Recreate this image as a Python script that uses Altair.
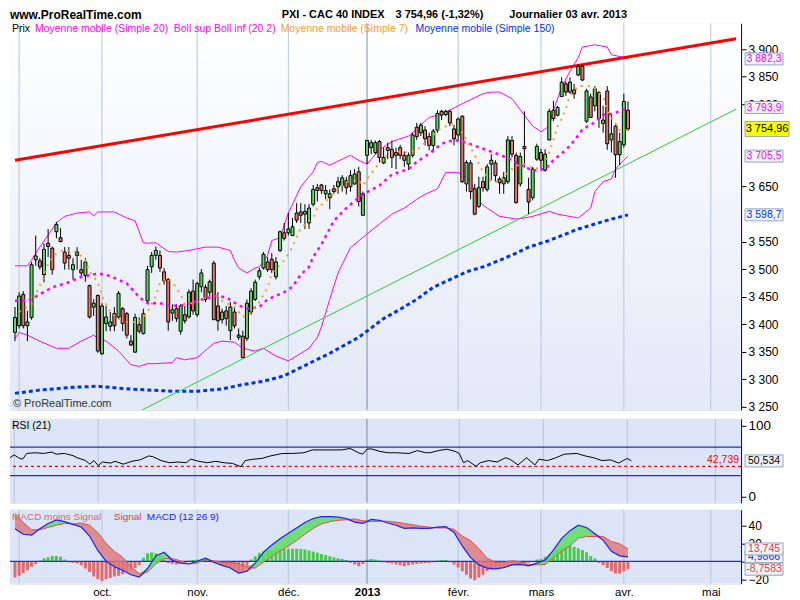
import altair as alt
import pandas as pd

FONT = "Liberation Sans, Arial, sans-serif"

# ---------------- data (trading-day index; 0 = 3 sept. 2012) ----------------
first_index = -1
opens = [3385, 3397, 3454, 3397, 3412, 3517, 3515, 3490, 3547, 3538, 3568, 3557, 3531, 3525, 3499, 3525, 3499, 3488, 3470, 3431,
         3452, 3346, 3401, 3396, 3419, 3413, 3428, 3419, 3369, 3349, 3399, 3383, 3442, 3504, 3525, 3525, 3495, 3481, 3420, 3428,
         3387, 3417, 3413, 3460, 3417, 3468, 3467, 3458, 3511, 3433, 3408, 3424, 3388, 3422, 3376, 3378, 3374, 3422, 3445, 3486,
         3502, 3513, 3518, 3486, 3534, 3566, 3566, 3561, 3602, 3604, 3600, 3584, 3618, 3648, 3653, 3637, 3630, 3646, 3650, 3652,
         3661, 3650, 3655, 3677, 3598, 3707, 3721, 3712, 3732, 3693, 3721, 3718, 3707, 3721, 3707, 3691, 3707, 3758, 3748, 3753,
         3741, 3725, 3753, 3787, 3781, 3787, 3755, 3744, 3778, 3655, 3693, 3646, 3614, 3659, 3645, 3691, 3693, 3664, 3655, 3659,
         3734, 3707, 3655, 3723, 3645, 3630, 3700, 3712, 3680, 3735, 3789, 3780, 3814, 3837, 3822, 3826, 3853, 3869, 3769, 3813,
         3797, 3821, 3765, 3824, 3735, 3760, 3708, 3726, 3789]
highs = [3431, 3458, 3460, 3424, 3513, 3561, 3520, 3547, 3573, 3541, 3586, 3575, 3540, 3540, 3520, 3540, 3517, 3520, 3472, 3445,
         3454, 3438, 3433, 3422, 3431, 3460, 3431, 3422, 3380, 3419, 3412, 3428, 3506, 3531, 3541, 3534, 3502, 3484, 3436, 3436,
         3436, 3433, 3463, 3481, 3477, 3500, 3472, 3481, 3515, 3458, 3428, 3433, 3440, 3433, 3392, 3388, 3445, 3465, 3481, 3502,
         3531, 3522, 3529, 3522, 3570, 3584, 3602, 3593, 3620, 3620, 3618, 3618, 3653, 3655, 3655, 3653, 3645, 3653, 3668, 3671,
         3668, 3680, 3682, 3686, 3641, 3735, 3735, 3734, 3735, 3721, 3730, 3734, 3721, 3726, 3714, 3712, 3748, 3766, 3766, 3760,
         3748, 3755, 3789, 3790, 3790, 3790, 3762, 3776, 3780, 3698, 3698, 3655, 3668, 3668, 3691, 3709, 3698, 3668, 3677, 3742,
         3742, 3712, 3712, 3787, 3666, 3686, 3728, 3719, 3718, 3792, 3806, 3797, 3849, 3842, 3849, 3837, 3872, 3872, 3828, 3819,
         3833, 3824, 3797, 3833, 3783, 3766, 3748, 3819, 3805]
lows = [3369, 3392, 3392, 3369, 3408, 3506, 3499, 3476, 3522, 3490, 3556, 3549, 3499, 3499, 3481, 3499, 3486, 3477, 3410, 3415,
        3348, 3344, 3387, 3387, 3387, 3410, 3387, 3374, 3360, 3348, 3383, 3381, 3438, 3493, 3517, 3495, 3472, 3388, 3406, 3404,
        3381, 3401, 3410, 3417, 3413, 3458, 3440, 3445, 3408, 3388, 3401, 3397, 3371, 3392, 3371, 3339, 3369, 3417, 3442, 3481,
        3499, 3495, 3493, 3481, 3531, 3552, 3561, 3561, 3584, 3584, 3573, 3573, 3614, 3623, 3637, 3627, 3609, 3637, 3637, 3641,
        3636, 3641, 3653, 3614, 3597, 3691, 3709, 3709, 3694, 3691, 3700, 3684, 3682, 3700, 3686, 3680, 3703, 3735, 3742, 3725,
        3716, 3712, 3748, 3771, 3778, 3760, 3725, 3734, 3657, 3641, 3627, 3598, 3611, 3641, 3641, 3662, 3659, 3637, 3637, 3655,
        3703, 3619, 3650, 3685, 3600, 3625, 3697, 3682, 3677, 3734, 3769, 3778, 3814, 3815, 3819, 3810, 3851, 3842, 3766, 3776,
        3787, 3757, 3748, 3717, 3712, 3666, 3689, 3721, 3751]
closes = [3412, 3451, 3397, 3404, 3508, 3524, 3504, 3536, 3541, 3499, 3581, 3550, 3511, 3520, 3508, 3531, 3493, 3513, 3413, 3438,
          3351, 3433, 3413, 3404, 3397, 3456, 3401, 3380, 3362, 3412, 3387, 3419, 3499, 3525, 3534, 3502, 3479, 3404, 3426, 3410,
          3433, 3406, 3458, 3424, 3474, 3493, 3445, 3477, 3408, 3406, 3422, 3410, 3431, 3397, 3380, 3339, 3438, 3460, 3476, 3497,
          3527, 3499, 3499, 3513, 3568, 3556, 3573, 3577, 3589, 3598, 3605, 3611, 3645, 3643, 3643, 3643, 3637, 3641, 3659, 3666,
          3648, 3670, 3673, 3623, 3637, 3734, 3730, 3730, 3703, 3703, 3716, 3703, 3712, 3707, 3698, 3707, 3744, 3741, 3762, 3737,
          3725, 3751, 3783, 3780, 3787, 3766, 3737, 3773, 3659, 3694, 3641, 3600, 3648, 3648, 3686, 3698, 3670, 3657, 3666, 3735,
          3709, 3621, 3705, 3719, 3622, 3682, 3723, 3698, 3709, 3787, 3774, 3794, 3840, 3822, 3840, 3819, 3869, 3844, 3824, 3776,
          3828, 3774, 3771, 3728, 3746, 3708, 3732, 3805, 3755]

month_index = [0, 20, 43, 65, 84, 106, 126, 146, 167]
month_label = ["sept.", "oct.", "nov.", "déc.", "2013", "févr.", "mars", "avr.", "mai"]
year_index = 84

ma7_i = [0, 3, 4, 6, 7, 9, 11, 12, 14, 16, 17, 19, 20, 22, 24, 26, 29, 31, 33, 34, 36, 37, 39, 40, 43, 45, 48, 49, 52, 54,
         56, 58, 60, 61, 64, 66, 68, 71, 72, 75, 77, 79, 82, 83, 84, 85, 87, 89, 91, 94, 96, 98, 100, 102, 105, 106, 108, 110,
         112, 114, 116, 119, 121, 123, 124, 126, 128, 129, 130, 131, 132, 133, 135, 136, 138, 139, 141, 142, 144, 145, 147]
ma7_v = [3422, 3436, 3454, 3486, 3511, 3529, 3536, 3534, 3531, 3516, 3495, 3476, 3451, 3422, 3410, 3404, 3404, 3422, 3451,
         3476, 3484, 3476, 3454, 3436, 3440, 3449, 3451, 3442, 3431, 3413, 3422, 3440, 3467, 3493, 3516, 3540, 3575, 3593,
         3611, 3629, 3646, 3659, 3662, 3652, 3664, 3674, 3694, 3709, 3714, 3712, 3716, 3730, 3744, 3757, 3765, 3760, 3735,
         3707, 3677, 3659, 3659, 3682, 3691, 3689, 3682, 3685, 3712, 3735, 3760, 3774, 3792, 3815, 3833, 3833, 3833, 3828,
         3813, 3787, 3765, 3753, 3753]

ma20_i = [-1, 0, 2, 5, 8, 12, 15, 19, 21, 23, 26, 29, 31, 34, 37, 40, 43, 47, 50, 53, 55, 58, 60, 64, 66, 68, 70, 71, 73,
          76, 79, 82, 84, 87, 90, 94, 96, 99, 102, 105, 108, 112, 115, 118, 121, 124, 127, 129, 132, 134, 136, 139, 141,
          143, 146, 147]
ma20_v = [3442, 3443, 3442, 3454, 3467, 3476, 3486, 3492, 3490, 3484, 3474, 3449, 3438, 3438, 3433, 3435, 3442, 3451, 3449,
          3434, 3428, 3431, 3445, 3458, 3468, 3490, 3504, 3522, 3545, 3588, 3611, 3630, 3640, 3652, 3672, 3682, 3695, 3710,
          3728, 3735, 3730, 3719, 3711, 3702, 3690, 3679, 3682, 3698, 3717, 3733, 3754, 3767, 3781, 3782, 3790, 3793.9]

bup_i = [-1, 2, 3, 5, 9, 11, 14, 17, 18, 19, 23, 26, 28, 30, 31, 33, 36, 38, 41, 45, 48, 51, 52, 53, 55, 57, 58, 60, 61,
         63, 65, 68, 71, 72, 73, 75, 78, 80, 82, 84, 87, 90, 94, 96, 99, 101, 104, 107, 109, 112, 114, 116, 119, 122, 124,
         126, 128, 129, 131, 133, 135, 136, 139, 142, 143, 146, 147]
bup_v = [3506, 3506, 3517, 3540, 3584, 3596, 3602, 3604, 3597, 3604, 3604, 3593, 3588, 3548, 3547, 3548, 3532, 3531, 3534,
         3540, 3540, 3534, 3516, 3502, 3493, 3502, 3504, 3525, 3552, 3557, 3602, 3650, 3677, 3694, 3696, 3689, 3700, 3707,
         3698, 3691, 3717, 3732, 3742, 3755, 3776, 3780, 3789, 3801, 3808, 3819, 3822, 3822, 3810, 3780, 3760, 3750, 3760,
         3789, 3831, 3860, 3885, 3904, 3908, 3904, 3890, 3885, 3882.3]

bdn_i = [-1, 0, 2, 5, 9, 12, 15, 18, 19, 21, 24, 27, 29, 31, 33, 37, 38, 40, 43, 47, 49, 52, 54, 57, 59, 62, 65, 67, 70,
         72, 73, 75, 77, 80, 84, 87, 90, 93, 96, 98, 101, 103, 106, 109, 111, 113, 116, 120, 122, 124, 128, 130, 135, 138,
         139, 141, 143, 144, 146, 147]
bdn_v = [3374, 3385, 3380, 3369, 3356, 3356, 3369, 3380, 3374, 3369, 3351, 3326, 3323, 3328, 3328, 3330, 3339, 3335, 3339,
         3365, 3369, 3367, 3356, 3351, 3356, 3342, 3333, 3342, 3356, 3376, 3395, 3445, 3493, 3539, 3564, 3582, 3600, 3611,
         3627, 3636, 3646, 3676, 3676, 3659, 3623, 3611, 3596, 3591, 3593, 3596, 3605, 3600, 3593, 3611, 3641, 3659, 3664,
         3682, 3698, 3705.5]

ma150_i = [-1, 5, 13, 19, 25, 31, 37, 43, 49, 54, 59, 64, 68, 75, 82, 88, 92, 96, 100, 104, 108, 112, 116, 120, 123, 128,
           135, 139, 143, 147]
ma150_v = [3274, 3280, 3285, 3287, 3283, 3280, 3278, 3278, 3282, 3290, 3296, 3306, 3321, 3347, 3376, 3410, 3427, 3445,
           3467, 3481, 3495, 3504, 3516, 3529, 3540, 3552, 3573, 3582, 3591, 3598.7]

red_trend_i = [-1.0, 173.1]
red_trend_v = [3698, 3919]
green_trend_i = [29.2, 173.1]
green_trend_v = [3242, 3791]

rsi_i = [-1, 0, 1, 2, 3, 5, 7, 9, 10, 12, 14, 15, 17, 18, 19, 20, 21, 23, 24, 26, 28, 30, 32, 33, 35, 37, 39, 41, 42, 44,
         46, 48, 50, 52, 54, 55, 57, 59, 61, 63, 64, 66, 69, 71, 75, 78, 80, 82, 83, 84, 85, 87, 89, 91, 94, 96, 98, 99,
         101, 103, 105, 106, 107, 108, 110, 111, 113, 115, 117, 118, 120, 122, 124, 125, 127, 129, 131, 134, 136, 138,
         140, 142, 144, 145, 146, 147]
rsi_v = [55, 59, 55, 53, 61, 62, 61, 63, 60, 61, 58, 55, 51, 46, 51, 44, 49, 47.5, 50, 46, 50, 52, 57.5, 56.5, 51, 48, 49,
         48, 53, 50, 48, 50, 48, 47, 42.5, 51, 53, 54, 57.5, 60, 61, 61, 62, 66, 66, 66, 68, 62, 60, 67, 67.5, 64, 62, 62,
         61, 65, 62, 62, 65, 67, 64, 61, 48, 51, 43, 48, 51, 49, 55, 53, 45, 55, 45, 53, 51, 55, 60, 61, 57.5, 55, 51, 52,
         47.5, 51, 54, 50.534]
rsi_levels = [30, 70]
rsi_ref = 42.739

macd_i = list(range(-1, 148, 2))
macd_v = [36, 30, 29, 36, 42, 46, 44, 41, 38, 28, 12, 0, -6, -10, -15, -17.5, -8, 6, 10, 1, -2, -3, 0, 3.5, -1, -4.5,
          -7.5, -13, -11, -2, 10, 18, 25, 31, 37, 43, 47.5, 49.5, 49.5, 49, 47.5, 43.5, 42, 46.5, 45.5, 42.5, 40, 36.5,
          37, 36.5, 36.5, 38, 38.5, 32, 17, 4, -4, -7.5, -8.5, -7, -4, -3.5, -5, -2, 1.5, 12.5, 25.5, 34, 40, 37.5,
          30.5, 23.5, 11, 6, 4.9866]
signal_v = [53, 43, 35, 35, 37.5, 40, 42, 41.5, 42.5, 40, 32, 20, 11, 4.5, -6, -13.5, -12, -3, 3, 3, 0.5, -3, -2, 2,
            0.5, -1, -1, -3, -6, -7.5, -1, 5.5, 11.5, 17, 23, 30, 36.5, 41.5, 44, 45.5, 46, 47, 45, 44, 44.5, 44.5,
            43.5, 42, 40.5, 39, 38, 37, 37, 35.5, 28, 23, 14, 3.5, -1, -1, 0.5, -0.5, -3.5, -4, -3.5, 3.5, 11, 17,
            25.5, 27.5, 27.5, 27.5, 22, 19.5, 13.745]
hist_v = [-18, -16, -13, -10, -6, -3, 1, 3.5, 4.5, 6, 6, 5, 2, -1, -1.5, -2.5, -4.5, -8, -12, -17, -20, -22, -20, -18.5,
          -17, -16, -14.5, -11, -9, -7.5, -4, 4, 9, 10, 9, 6, 2, -2, -3, -3.5, -2.5, -1.5, 0.5, 1.5, 2, 2, 1.5, 0.5, -1.5,
          -2, -3.5, -5, -6.5, -9, -11, -10, -5, 2, 5.5, 9.5, 11, 12, 12.5, 13.5, 13.5, 14, 14, 14, 14, 13.5, 13, 12, 11,
          9.5, 8, 7, 5.5, 4.5, 3.5, 2.5, 1.5, -1.5, -3.5, -5.5, -3, 2, 2.5, 2, 1, -1, -2, -2.5, -3.5, -4.5, -5.5, -4.5,
          -3.5, -3, -2.5, -2, -1.5, -1, 1, 1.5, 1.5, -1, -3.5, -7, -11, -15, -19, -21, -18, -15, -11, -9, -7.5, -7, -6,
          -5, -4.5, -4, -3, -2, -1.5, -0.5, 2, 2.5, 5, 7.5, 9, 12.5, 14.5, 16.5, 17, 16, 14.5, 12.5, 10, 6, 3, -1.5, -4,
          -7.5, -11, -13.5, -13.5, -11, -8.7583]

# ---------------- layout / style ----------------
W, HP, HR, HM = 732, 387, 84, 74
GREEN, RED = "#5FD85F", "#E57A6E"
MAGENTA, ORANGE, BLUE = "#FF00FF", "#FF9933", "#0033EE"
GRID, GRID_YEAR = "#B9C5DA", "#7F8DA6"
PANEL_BG = "#DCE5F8"

xs = alt.Scale(domain=[-1.0, 173.1], nice=False, zero=False)
ps = alt.Scale(domain=[3244, 3947], nice=False, zero=False)
rs = alt.Scale(domain=[-8.2, 109.6], nice=False, zero=False)
ms = alt.Scale(domain=[-24.8, 57.2], nice=False, zero=False)

one = pd.DataFrame({"k": [0]})
price_ticks = [v for v in range(3250, 3901, 50) if v not in (3600, 3700, 3750)]


def right_axis(values, size=12, expr=None):
    kw = dict(orient="right", values=values, grid=False, domainColor="black", tickColor="black", tickSize=5,
              labelFontSize=size, labelColor="black", labelFont=FONT, title=None, labelPadding=2)
    if expr:
        kw["labelExpr"] = expr
    return alt.Axis(**kw)


lbl_expr = "''"
for mi, ml in reversed(list(zip(month_index[1:], month_label[1:]))):
    lbl_expr = f"datum.value == {mi} ? '{ml}' : " + lbl_expr
x_axis_bottom = alt.Axis(values=month_index[1:], labelExpr=lbl_expr, grid=False, domain=False, ticks=False,
                         labelFontSize=11.5, labelColor="black", labelFont=FONT, title=None, labelPadding=3,
                         labelFontWeight={"condition": {"test": f"datum.value == {year_index}", "value": "bold"},
                                          "value": "normal"})


class Panel:
    def __init__(self, yscale, yaxis, xaxis=None):
        self.ys, self.ya, self.xa = yscale, yaxis, xaxis

    def X(self, field="i"):
        return alt.X(f"{field}:Q", scale=xs, axis=self.xa)

    def Y(self, field):
        return alt.Y(f"{field}:Q", scale=self.ys, axis=self.ya)

    def line(self, i_list, v_list, color, width, dash=None):
        df = pd.DataFrame({"i": i_list, "v": v_list})
        kw = dict(color=color, strokeWidth=width, clip=True)
        if dash:
            kw["strokeDash"] = dash
        return alt.Chart(df).mark_line(**kw).encode(x=self.X(), y=self.Y("v"))

    def grid(self):
        gdf = pd.DataFrame({"i": month_index, "yr": [m == year_index for m in month_index]})
        return alt.Chart(gdf).mark_rule(strokeWidth=1).encode(
            x=self.X(), color=alt.condition("datum.yr", alt.value(GRID_YEAR), alt.value(GRID)))

    def hrule(self, vals, color, width=1.3, dash=None):
        kw = dict(color=color, strokeWidth=width)
        if dash:
            kw["strokeDash"] = dash
        return alt.Chart(pd.DataFrame({"v": vals})).mark_rule(**kw).encode(y=self.Y("v"))

    def vbox(self, vals, labels, tcolors, width=38, height=12, fill="#F2F3F7", stroke="#93A5C0", tsize=10.5):
        df = pd.DataFrame({"v": vals, "t": labels, "tc": tcolors})
        half = height / width
        shape = f"M-1,-{half:.4f}H1V{half:.4f}H-1Z"
        cx = W + 4 + width / 2
        box = alt.Chart(df).mark_point(shape=shape, size=width * width, filled=True, fill=fill, stroke=stroke,
                                       strokeWidth=1, opacity=1).encode(x=alt.value(cx), y=self.Y("v"))
        tx = alt.Chart(df).mark_text(font=FONT, fontSize=tsize, align="center", baseline="middle").encode(
            x=alt.value(cx), y=self.Y("v"), text="t:N", color=alt.Color("tc:N", scale=None))
        return box + tx


def txt(text, x, y, color="black", size=10.5, weight="normal", align="left", baseline="middle"):
    return alt.Chart(one).mark_text(text=text, color=color, fontSize=size, fontWeight=weight, align=align,
                                    baseline=baseline, font=FONT).encode(x=alt.value(x), y=alt.value(y))


def background(h, color):
    return alt.Chart(one).mark_rect(color=color).encode(x=alt.value(0), x2=alt.value(W), y=alt.value(0),
                                                        y2=alt.value(h))


# ---------------- price panel ----------------
P = Panel(ps, right_axis(price_ticks, 12, "replace(format(datum.value, ',d'), ',', ' ')"))
cdf = pd.DataFrame({"i": list(range(first_index, first_index + len(opens))), "o": opens, "h": highs, "l": lows,
                    "c": closes})
wicks = alt.Chart(cdf).mark_rule(color="black", strokeWidth=1, clip=True).encode(x=P.X(), y=P.Y("l"), y2="h:Q")
bodies = alt.Chart(cdf).mark_bar(size=3, stroke="black", strokeWidth=1, clip=True).encode(
    x=P.X(), y=P.Y("o"), y2="c:Q",
    color=alt.condition("datum.c >= datum.o", alt.value(GREEN), alt.value(RED)))

price_bg = alt.Chart(one).mark_rect(color=alt.Gradient(
    gradient="linear", x1=0, x2=0, y1=0, y2=1,
    stops=[alt.GradientStop(color="#FFFFFF", offset=0), alt.GradientStop(color="#E2E9F7", offset=1)])).encode(
    x=alt.value(0), x2=alt.value(W), y=alt.value(0), y2=alt.value(HP))

price = alt.layer(
    price_bg, P.grid(),
    P.line(ma150_i, ma150_v, BLUE, 3, [4, 3]),
    P.line(bup_i, bup_v, MAGENTA, 1),
    P.line(bdn_i, bdn_v, MAGENTA, 1),
    P.line(green_trend_i, green_trend_v, "#33CC33", 1),
    P.line(red_trend_i, red_trend_v, "#FF0000", 3),
    wicks, bodies,
    P.line(ma20_i, ma20_v, MAGENTA, 2.5, [3, 4]),
    P.line(ma7_i, ma7_v, ORANGE, 2, [2, 5]),
    txt("Prix", 2, 6), txt("Moyenne mobile (Simple 20)", 25, 6, MAGENTA),
    txt("Boll sup Boll inf (20 2)", 164, 6, MAGENTA), txt("Moyenne mobile (Simple 7)", 271, 6, ORANGE),
    txt("Moyenne mobile (Simple 150)", 406, 6, BLUE),
    txt("© ProRealTime.com", 3, HP - 6, "#333333", 11),
    txt("www.ProRealTime.com", 0, -8, size=12, weight="bold"),
    txt("PXI - CAC 40 INDEX", 272, -8, size=11, weight="bold"),
    txt("3 754,96 (-1,32%)", 386, -8, size=11, weight="bold"),
    txt("Journalier  03 avr. 2013", 500, -8, size=11, weight="bold"),
    P.vbox([3882.3, 3793.9, 3705.5], ["3 882,3", "3 793,9", "3 705,5"], [MAGENTA] * 3),
    P.vbox([3598.7], ["3 598,7"], [BLUE]),
    P.vbox([3754.96], ["3 754,96"], ["black"], width=44, height=15, fill="#FFFF00", stroke="#9AA6B8", tsize=11),
).properties(width=W, height=HP)

# ---------------- RSI panel ----------------
R = Panel(rs, right_axis([0, 100], 13.5))
rsi_ref_txt = alt.Chart(pd.DataFrame({"v": [rsi_ref]})).mark_text(
    text="42,739", color="#FF0000", fontSize=10.5, font=FONT, align="right", baseline="bottom", dx=-2, dy=-1).encode(
    x=alt.value(W), y=R.Y("v"))
rsi = alt.layer(
    background(HR, PANEL_BG), R.grid(), R.hrule(rsi_levels, "#2B2BCC"),
    R.hrule([rsi_ref], "#FF0000", 1.3, [3, 3]),
    R.line(rsi_i, rsi_v, "black", 1),
    rsi_ref_txt,
    txt("RSI (21)", 2, 7),
    R.vbox([50.534], ["50,534"], ["black"]),
).properties(width=W, height=HR)

# ---------------- MACD panel ----------------
M = Panel(ms, right_axis([-20, 0, 20, 40], 12), x_axis_bottom)
hdf = pd.DataFrame({"i": list(range(first_index, first_index + len(hist_v))), "h": hist_v})
hbars = alt.Chart(hdf).mark_bar(size=3, clip=True).encode(
    x=M.X(), y=M.Y("h"), y2=alt.datum(0),
    color=alt.condition("datum.h >= 0", alt.value("#48CC48"), alt.value("#E26A6A")))
mdf = pd.DataFrame({"i": macd_i, "m": macd_v, "s": signal_v})
area_g = alt.Chart(mdf).transform_calculate(top="max(datum.m, datum.s)").mark_area(
    color="#5FDB5F", opacity=0.85, clip=True).encode(x=M.X(), y=M.Y("top"), y2="s:Q")
area_r = alt.Chart(mdf).transform_calculate(bot="min(datum.m, datum.s)").mark_area(
    color="#E07575", opacity=0.8, clip=True).encode(x=M.X(), y=M.Y("s"), y2="bot:Q")
macd = alt.layer(
    background(HM, PANEL_BG), M.grid(), hbars, M.hrule([0], "#2B2BCC"), area_g, area_r,
    M.line(macd_i, signal_v, "#E05050", 1),
    M.line(macd_i, macd_v, "#1E1EFF", 1.2),
    txt("MACD moins Signal", 2, 7, "#E06666", 10), txt("Signal", 104, 7, "#E04040", 10),
    txt("MACD (12 26 9)", 137, 7, "#2020FF", 10),
    M.vbox([4.9866], ["4,9866"], ["#2020FF"]),
    M.vbox([13.745], ["13,745"], ["#E04040"]),
    M.vbox([-8.7583], ["-8,7583"], ["#E04040"]),
).properties(width=W, height=HM)

chart = alt.vconcat(price, rsi, macd, spacing=4).properties(padding=0).configure_view(
    stroke="black", strokeWidth=1).configure(font=FONT)

chart.save("out.html", embed_options={"renderer": "svg", "actions": False})
